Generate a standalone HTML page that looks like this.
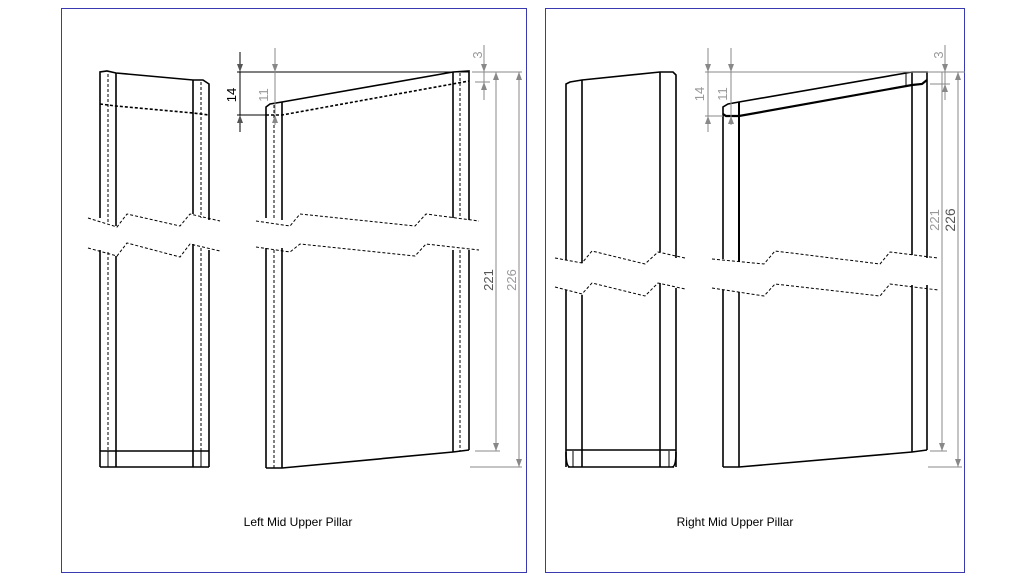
<!DOCTYPE html>
<html><head><style>
html,body{margin:0;padding:0;background:#fff;}
svg{display:block;}
text{font-family:"Liberation Sans",sans-serif;}
</style></head><body>
<svg width="1024" height="583" viewBox="0 0 1024 583" xmlns="http://www.w3.org/2000/svg">
<rect x="0" y="0" width="1024" height="583" fill="#fff"/>
<rect x="61.5" y="8.5" width="465" height="564" fill="none" stroke="#3a3ab0" stroke-width="1"/>
<rect x="545.5" y="8.5" width="419" height="564" fill="none" stroke="#3a3ab0" stroke-width="1"/>

<g fill="none" stroke="#000" stroke-width="1.6">
<!-- View A -->
<polyline points="100,218 100,72 107,71 116,73 193,80 203,80 209,84 209,220"/>
<line x1="116" y1="73" x2="116" y2="226"/>
<line x1="193" y1="80" x2="193" y2="214"/>
<line x1="100" y1="250" x2="100" y2="467"/>
<line x1="116" y1="256" x2="116" y2="467"/>
<line x1="193" y1="244" x2="193" y2="467"/>
<line x1="209" y1="250" x2="209" y2="467"/>
<line x1="100" y1="451" x2="209" y2="451"/>
<line x1="100" y1="467" x2="209" y2="467"/>
<line x1="108" y1="451" x2="108" y2="467" stroke-width="1"/>
<line x1="201" y1="451" x2="201" y2="467" stroke-width="1"/>
<!-- View B -->
<polyline points="266,218 266,107 270,104 282,102 453,72 469,71 469,220"/>
<line x1="282" y1="102" x2="282" y2="220"/>
<line x1="453" y1="72" x2="453" y2="218"/>
<line x1="266" y1="248" x2="266" y2="468"/>
<line x1="282" y1="248" x2="282" y2="468"/>
<line x1="453" y1="250" x2="453" y2="452"/>
<line x1="469" y1="250" x2="469" y2="450"/>
<polyline points="266,468 282,468 453,452 469,450"/>
<!-- View C -->
<polyline points="566,260 566,84 570,82 582,80 660,72 673,72 676,75 676,258"/>
<line x1="582" y1="80" x2="582" y2="263"/>
<line x1="660" y1="72" x2="660" y2="252"/>
<line x1="566" y1="290" x2="566" y2="467"/>
<line x1="582" y1="295" x2="582" y2="467"/>
<line x1="660" y1="283" x2="660" y2="467"/>
<line x1="676" y1="288" x2="676" y2="467"/>
<path d="M566,450 H676 M568,467 H674 M566,452 Q566,467 570,467 M676,452 Q676,467 672,467" />
<line x1="573" y1="451" x2="573" y2="467" stroke-width="1"/>
<line x1="669" y1="451" x2="669" y2="467" stroke-width="1"/>
<!-- View D -->
<polyline points="723,259 723,107 728,104 739,102 912,72 927,72 927,258"/>
<polyline points="723,114 726,116 739,116 912,85 922,84 927,80" stroke-width="2.2"/>
<line x1="739" y1="102" x2="739" y2="262" stroke-width="2"/>
<line x1="912" y1="72" x2="912" y2="255"/>
<line x1="906" y1="73" x2="906" y2="86" stroke-width="1"/>
<line x1="731" y1="103" x2="731" y2="116" stroke-width="1"/>
<line x1="723" y1="290" x2="723" y2="467"/>
<line x1="739" y1="292" x2="739" y2="467"/>
<line x1="912" y1="285" x2="912" y2="452"/>
<line x1="927" y1="285" x2="927" y2="450"/>
<polyline points="723,467 739,467 912,452 927,450"/>
</g>

<!-- hidden lines -->
<g fill="none" stroke="#000" stroke-width="1" stroke-dasharray="3,2">
<line x1="108" y1="74" x2="108" y2="222"/>
<line x1="108" y1="252" x2="108" y2="451"/>
<line x1="201" y1="82" x2="201" y2="218"/>
<line x1="201" y1="248" x2="201" y2="451"/>
<polyline points="100,104 116,106 193,113 209,115" stroke-width="1.6"/>
<line x1="274" y1="105" x2="274" y2="220"/>
<line x1="274" y1="250" x2="274" y2="468"/>
<line x1="460" y1="73" x2="460" y2="218"/>
<line x1="460" y1="250" x2="460" y2="451"/>
<polyline points="266,115 282,115 469,81" stroke-width="1.6"/>
<!-- breaks -->
<polyline points="88,218 117,227 127,214 180,226 190,214 220,221"/>
<polyline points="88,248 117,256 127,243 180,257 190,244 220,251"/>
<polyline points="256,221 290,226 300,214 415,226 426,214 479,221"/>
<polyline points="256,247 290,252 300,244 415,256 426,244 479,250"/>
<polyline points="555,258 582,263 592,251 645,264 658,252 685,258"/>
<polyline points="555,287 582,294 592,283 645,296 658,283 685,289"/>
<polyline points="712,259 764,264 775,251 880,264 890,252 938,258"/>
<polyline points="712,288 764,296 775,284 880,296 890,284 938,290"/>
</g>

<!-- dimensions left -->
<g stroke="#000" stroke-width="1" fill="none">
<line x1="237" y1="72" x2="469" y2="72"/>
<line x1="237" y1="115" x2="266" y2="115"/>
<line x1="240" y1="52" x2="240" y2="132"/>
</g>
<g stroke="#888" stroke-width="1" fill="none">
<line x1="275" y1="48" x2="275" y2="125"/>
<line x1="475" y1="82" x2="490" y2="82"/>
<line x1="472" y1="72" x2="522" y2="72"/>
<line x1="484" y1="45" x2="484" y2="100"/>
<line x1="496" y1="72" x2="496" y2="451"/>
<line x1="519" y1="72" x2="519" y2="467"/>
<line x1="475" y1="451" x2="500" y2="451"/>
<line x1="470" y1="467" x2="522" y2="467"/>
</g>
<g fill="#555">
<path d="M237,64 L240,72 L243,64Z M237,123 L240,115 L243,123Z"/>
<path d="M272,64 L275,72 L278,64Z M272,123 L275,115 L278,123Z" fill="#888"/>
<path d="M481,64 L484,72 L487,64Z M481,90 L484,82 L487,90Z" fill="#888"/>
<path d="M493,80 L496,72 L499,80Z M493,443 L496,451 L499,443Z" fill="#888"/>
<path d="M516,80 L519,72 L522,80Z M516,459 L519,467 L522,459Z" fill="#888"/>
</g>
<text transform="translate(236,95) rotate(-90)" font-size="13" fill="#000" text-anchor="middle">14</text>
<text transform="translate(268,95) rotate(-90)" font-size="13" fill="#999" text-anchor="middle">11</text>
<text transform="translate(482,55) rotate(-90)" font-size="13" fill="#999" text-anchor="middle">3</text>
<text transform="translate(493,280) rotate(-90)" font-size="13" fill="#555" text-anchor="middle">221</text>
<text transform="translate(516,280) rotate(-90)" font-size="13" fill="#999" text-anchor="middle">226</text>

<!-- dimensions right -->
<g stroke="#888" stroke-width="1" fill="none">
<line x1="705" y1="72" x2="965" y2="72"/>
<line x1="705" y1="116" x2="723" y2="116"/>
<line x1="708" y1="48" x2="708" y2="132"/>
<line x1="731" y1="48" x2="731" y2="125"/>
<line x1="930" y1="84" x2="950" y2="84"/>
<line x1="945" y1="45" x2="945" y2="100"/>
<line x1="942" y1="72" x2="942" y2="451"/>
<line x1="958" y1="72" x2="958" y2="467"/>
<line x1="930" y1="451" x2="947" y2="451"/>
<line x1="928" y1="467" x2="962" y2="467"/>
</g>
<g fill="#888">
<path d="M705,64 L708,72 L711,64Z M705,124 L708,116 L711,124Z"/>
<path d="M728,64 L731,72 L734,64Z M728,124 L731,116 L734,124Z"/>
<path d="M942,64 L945,72 L948,64Z M942,92 L945,84 L948,92Z"/>
<path d="M939,443 L942,451 L945,443Z"/>
<path d="M955,80 L958,72 L961,80Z M955,459 L958,467 L961,459Z"/>
</g>
<text transform="translate(704,94) rotate(-90)" font-size="13" fill="#999" text-anchor="middle">14</text>
<text transform="translate(727,94) rotate(-90)" font-size="13" fill="#999" text-anchor="middle">11</text>
<text transform="translate(943,55) rotate(-90)" font-size="13" fill="#999" text-anchor="middle">3</text>
<text transform="translate(939,220) rotate(-90)" font-size="13" fill="#999" text-anchor="middle">221</text>
<text transform="translate(955,220) rotate(-90)" font-size="14" fill="#555" text-anchor="middle">226</text>

<text x="298" y="526" font-size="12" fill="#000" text-anchor="middle">Left Mid Upper Pillar</text>
<text x="735" y="526" font-size="12" fill="#000" text-anchor="middle">Right Mid Upper Pillar</text>
</svg>
</body></html>
